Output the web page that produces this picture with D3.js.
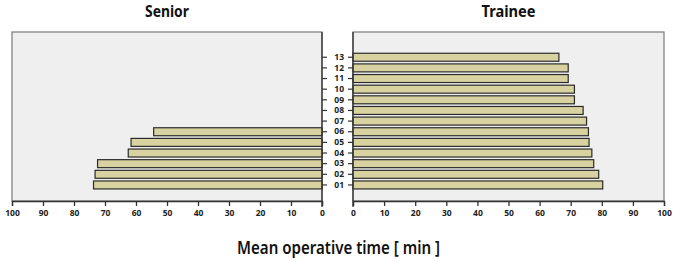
<!DOCTYPE html>
<html>
<head>
<meta charset="utf-8">
<script src="https://cdn.jsdelivr.net/npm/d3@7"></script>
<style>
body{margin:0;background:#fff;}
svg{display:block;}
.tick text{font-family:"Noto Sans",sans-serif;font-weight:bold;font-size:8.5px;fill:#222;}
</style>
</head>
<body>
<svg id="drawing_region"></svg>
<script>
// surgeon ids, bottom to top
const categories = ["01","02","03","04","05","06","07","08","09","10","11","12","13"]
const senior = [73.7,73.2,72.4,62.5,61.6,54.3]
const trainee = [80.3,79.0,77.4,76.8,75.9,75.7,75.1,74.0,71.2,71.2,69.2,69.2,66.2]
const x_ticks = [0,10,20,30,40,50,60,70,80,90,100]

const width = 675, height = 261
const top_y = 32, bottom_y = 201
const left_panel = {x0:12, x1:322}
const right_panel = {x0:353, x1:664}

const svg = d3.select("#drawing_region")
    .attr("width",width)
    .attr("height",height)

const yscale = d3.scaleBand()
    .domain(categories)
    .range([191.6,50.6])
    .padding(0.25)

const xscale_left = d3.scaleLinear().domain([0,100]).range([left_panel.x1,left_panel.x0])
const xscale_right = d3.scaleLinear().domain([0,100]).range([right_panel.x0,right_panel.x1])

function panel(p,xscale,values,title,title_w,side){
    const g = svg.append("g")
    g.append("rect")
        .attr("x",p.x0).attr("y",top_y)
        .attr("width",p.x1-p.x0).attr("height",bottom_y-top_y)
        .attr("fill","#efefef")
        .attr("stroke","#7a7a7a")
        .attr("stroke-width",1.2)
    g.selectAll("rect.bar")
        .data(values)
        .enter()
        .append("rect")
        .attr("class","bar")
        .attr("x",d=>Math.min(xscale(0),xscale(d)))
        .attr("y",(d,i)=>yscale(categories[i]))
        .attr("width",d=>Math.abs(xscale(d)-xscale(0)))
        .attr("height",yscale.bandwidth())
        .attr("fill","#d8d1a0")
        .attr("stroke","#2b2b2b")
        .attr("stroke-width",1.2)

    const xaxis = d3.axisBottom(xscale).tickValues(x_ticks).tickSize(5).tickPadding(4)
    const xg = g.append("g")
        .attr("transform",`translate(0,${bottom_y})`)
        .call(xaxis)
    xg.select(".domain").attr("stroke","#333").attr("stroke-width",1.3)
    xg.selectAll(".tick line").attr("stroke","#333").attr("stroke-width",1.3)

    const yaxis = side=="left" ? d3.axisRight(yscale) : d3.axisLeft(yscale)
    yaxis.tickSize(5).tickSizeOuter(0).tickFormat(side=="left" ? "" : d=>d).tickPadding(4)
    const yg = g.append("g")
        .attr("transform",`translate(${xscale(0)},0)`)
        .call(yaxis)
    yg.select(".domain").attr("d",`M0,${top_y}V${bottom_y+6}`).attr("stroke","#333").attr("stroke-width",1.3)
    yg.selectAll(".tick line").attr("stroke","#333").attr("stroke-width",1.2)

    svg.append("text")
        .attr("x",(p.x0+p.x1)/2)
        .attr("y",16.5)
        .attr("text-anchor","middle")
        .attr("font-family","Noto Sans, sans-serif")
        .attr("font-weight","bold")
        .attr("font-size",16.5)
        .attr("textLength",title_w)
        .attr("lengthAdjust","spacingAndGlyphs")
        .attr("fill","#111")
        .text(title)
}

panel(left_panel,xscale_left,senior,"Senior",44,"left")
panel(right_panel,xscale_right,trainee,"Trainee",54,"right")

svg.append("text")
    .attr("x",338.5)
    .attr("y",254)
    .attr("text-anchor","middle")
    .attr("font-family","Noto Sans, sans-serif")
    .attr("font-weight",600)
    .attr("font-size",17.5)
    .attr("textLength",203)
    .attr("lengthAdjust","spacingAndGlyphs")
    .attr("fill","#111")
    .text("Mean operative time [ min ]")
</script>
</body>
</html>
